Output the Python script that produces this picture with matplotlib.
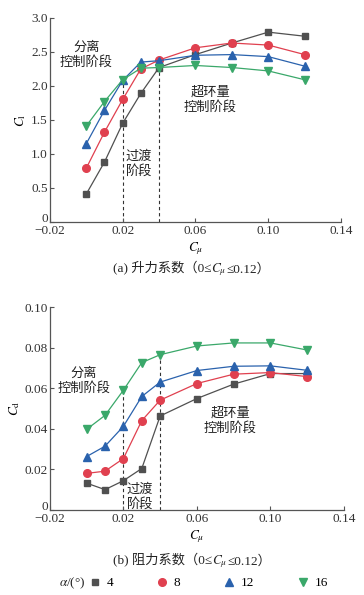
import matplotlib
matplotlib.use("Agg")
import matplotlib.pyplot as plt
from matplotlib.lines import Line2D
from matplotlib.offsetbox import TextArea, HPacker, AnchoredOffsetbox
from matplotlib.transforms import ScaledTranslation

plt.rcParams['font.family'] = ['Liberation Serif', 'Noto Sans CJK SC']
plt.rcParams['mathtext.fontset'] = 'stix'
plt.rcParams['font.size'] = 9.5

cmu = [0, 0.01, 0.02, 0.03, 0.04, 0.06, 0.08, 0.10, 0.12]
alphas = ['4', '8', '12', '16']

cl_4 = [0.41, 0.88, 1.45, 1.89, 2.27, 2.46, 2.63, 2.79, 2.73]
cl_8 = [0.79, 1.32, 1.80, 2.25, 2.38, 2.56, 2.63, 2.60, 2.46]
cl_12 = [1.15, 1.64, 2.08, 2.35, 2.37, 2.45, 2.46, 2.43, 2.29]
cl_16 = [1.41, 1.77, 2.09, 2.26, 2.27, 2.30, 2.27, 2.22, 2.09]

cd_4 = [0.0132, 0.0100, 0.0144, 0.0204, 0.0463, 0.0549, 0.0620, 0.0672, 0.0672]
cd_8 = [0.0180, 0.0191, 0.0253, 0.0440, 0.0541, 0.0623, 0.0669, 0.0677, 0.0657]
cd_12 = [0.0263, 0.0314, 0.0412, 0.0559, 0.0630, 0.0687, 0.0708, 0.0710, 0.0688]
cd_16 = [0.0397, 0.0466, 0.0590, 0.0726, 0.0765, 0.0808, 0.0823, 0.0823, 0.0788]

colors = ['#505050', '#e0404f', '#2a62ad', '#3aa86a']
markers = ['s', 'o', '^', 'v']
msizes = [4.5, 5.5, 5.5, 5.5]

fig = plt.figure(figsize=(3.64, 5.95), dpi=100)
ax1 = fig.add_axes([0.137, 0.627, 0.800, 0.343])
ax2 = fig.add_axes([0.137, 0.143, 0.808, 0.341])

def style(ax, ylim, yticks, ylabels):
    ax.set_xlim(-0.02, 0.14)
    ax.set_ylim(*ylim)
    ax.set_xticks([-0.02, 0.02, 0.06, 0.10, 0.14])
    ax.set_xticklabels(['\u22120.02', '0.02', '0.06', '0.10', '0.14'])
    ax.set_yticks(yticks)
    ax.set_yticklabels(ylabels)
    ax.spines['top'].set_visible(False)
    ax.spines['right'].set_visible(False)
    for s in ['left', 'bottom']:
        ax.spines[s].set_color('#555555')
        ax.spines[s].set_linewidth(0.9)
    ax.tick_params(direction='in', length=3, width=0.8, color='#555555', pad=1.5,
                   labelsize=9.5, labelcolor='#333333')
    ax.tick_params(axis='x', pad=2.5)
    ax.set_xlabel(r'$C_\mu$', fontsize=9.5, labelpad=2)
    # lift the "0" label a bit so it sits above the -0.02 label
    lab0 = ax.get_yticklabels()[0]
    lab0.set_transform(lab0.get_transform() + ScaledTranslation(0, 3 / 72, fig.dpi_scale_trans))

cl_all = [cl_4, cl_8, cl_12, cl_16]
cd_all = [cd_4, cd_8, cd_12, cd_16]

for i in range(4):
    ax1.plot(cmu, cl_all[i], color=colors[i], marker=markers[i], ms=msizes[i], lw=0.9)
    ax2.plot(cmu, cd_all[i], color=colors[i], marker=markers[i], ms=msizes[i], lw=0.9)

ax1.vlines([0.02, 0.04], 0, [max(c[2] for c in cl_all), max(c[4] for c in cl_all)],
           colors='#333333', linestyles=(0, (3, 2.5)), lw=0.8, zorder=0)
ax2.vlines([0.02, 0.04], 0, [max(c[2] for c in cd_all), max(c[4] for c in cd_all)],
           colors='#333333', linestyles=(0, (3, 2.5)), lw=0.8, zorder=0)

style(ax1, (0, 3.0), [0, 0.5, 1.0, 1.5, 2.0, 2.5, 3.0],
      ['0', '0.5', '1.0', '1.5', '2.0', '2.5', '3.0'])
style(ax2, (0, 0.10), [0, 0.02, 0.04, 0.06, 0.08, 0.10],
      ['0', '0.02', '0.04', '0.06', '0.08', '0.10'])
ax1.set_ylabel(r'$C_\mathrm{l}$', labelpad=2)
ax2.set_ylabel(r'$C_\mathrm{d}$', labelpad=2)

cjk = ['Noto Sans CJK SC', 'Liberation Serif']
tc = '#222222'
ax1.text(0.0, 2.45, '分离\n控制阶段', family=cjk, ha='center', va='center', fontsize=9.5,
         linespacing=1.2, color=tc)
ax1.text(0.029, 0.85, '过渡\n阶段', family=cjk, ha='center', va='center', fontsize=9.5,
         linespacing=1.2, color=tc)
ax1.text(0.068, 1.80, '超环量\n控制阶段', family=cjk, ha='center', va='center', fontsize=9.5,
         linespacing=1.2, color=tc)
ax2.text(-0.0015, 0.0635, '分离\n控制阶段', family=cjk, ha='center', va='center', fontsize=9.5,
         linespacing=1.2, color=tc)
ax2.text(0.029, 0.0065, '过渡\n阶段', family=cjk, ha='center', va='center', fontsize=9.5,
         linespacing=1.2, color=tc)
ax2.text(0.078, 0.0440, '超环量\n控制阶段', family=cjk, ha='center', va='center', fontsize=9.5,
         linespacing=1.2, color=tc)

def caption(head, y):
    props = dict(fontsize=9.5, color=tc, family=['Liberation Serif', 'Noto Sans CJK SC'])
    parts = [TextArea(head, textprops=props),
             TextArea(r'$C_\mu$', textprops=dict(fontsize=9.5, color=tc)),
             TextArea('≤0.12）', textprops=props)]
    box = HPacker(children=parts, align='baseline', pad=0, sep=0)
    anch = AnchoredOffsetbox(loc='center', child=box, frameon=False, pad=0, borderpad=0,
                             bbox_to_anchor=(0.527, y), bbox_transform=fig.transFigure)
    fig.add_artist(anch)

caption('(a) 升力系数（0≤', 1 - 270 / 595)
caption('(b) 阻力系数（0≤', 1 - 562 / 595)

handles = [Line2D([], [], color=colors[i], marker=markers[i], ms=msizes[i], lw=0)
           for i in range(4)]
fig.text(72 / 364, 1 - 583 / 595, r'$\alpha$/(°)', ha='center', va='center', fontsize=9.5,
         color=tc)
fig.legend(handles, alphas, loc='center left', bbox_to_anchor=(88 / 364, 1 - 583 / 595),
           ncol=4, frameon=False, handlelength=1.0, handletextpad=0.4, columnspacing=3.2,
           fontsize=9.5, borderpad=0, borderaxespad=0)

fig.savefig('out.png', dpi=100)
